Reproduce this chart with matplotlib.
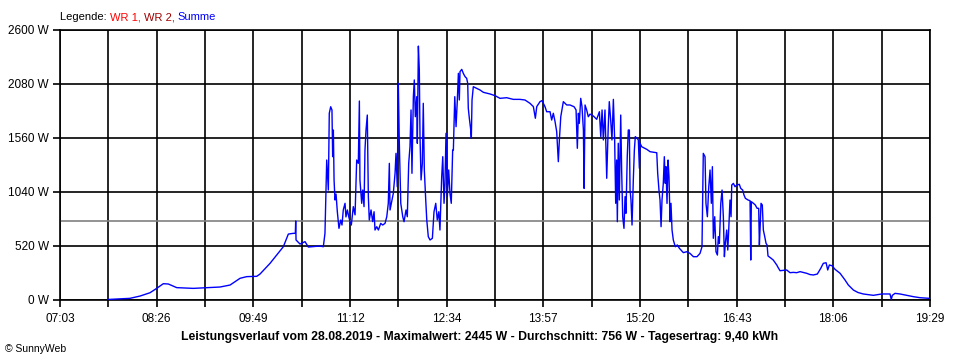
import matplotlib
matplotlib.use('Agg')
import matplotlib.pyplot as plt
import numpy as np

# time in minutes since midnight, power in W (Summe)
t_min = [
    464.0, 483.0, 491.6, 500.2, 505.9, 511.6, 515.9, 523.1, 537.3, 560.2,
    568.8, 577.4, 583.1, 591.7, 594.5, 603.1, 614.5, 618.8, 623.1, 624.8,
    625.1, 625.4, 628.8, 633.1, 635.9, 645.9, 648.8, 650.2, 651.7, 653.1,
    653.9, 655.1, 656.2, 656.8, 657.4, 658.0, 658.8, 659.7, 660.8, 662.2,
    663.7, 664.8, 665.9, 667.4, 668.2, 669.4, 670.6, 671.7, 672.8, 674.5,
    676.0, 677.4, 678.8, 679.7, 680.2, 681.7, 682.6, 683.7, 684.5, 685.4,
    686.5, 687.4, 688.2, 689.7, 691.1, 692.3, 693.1, 694.6, 696.0, 698.0,
    699.7, 701.7, 703.2, 704.5, 705.4, 706.0, 707.4, 708.8, 710.3, 711.1,
    712.2, 713.1, 713.9, 715.2, 716.9, 718.0, 719.7, 720.8, 722.0, 723.1,
    724.0, 724.8, 726.0, 726.8, 727.7, 728.9, 729.4, 730.3, 731.1, 731.7,
    732.6, 733.7, 734.5, 735.4, 736.6, 737.5, 738.8, 740.3, 742.3, 743.7,
    745.2, 746.5, 747.8, 748.8, 750.3, 751.2, 752.3, 753.1, 754.0, 755.1,
    756.3, 757.4, 758.5, 759.7, 760.3, 761.5, 762.6, 763.7, 764.6, 765.4,
    766.0, 767.5, 768.8, 770.3, 771.7, 772.6, 773.1, 774.0, 775.2, 775.7,
    776.3, 777.4, 780.3, 783.2, 786.0, 791.7, 796.0, 800.3, 806.0, 811.7,
    817.4, 821.7, 826.0, 828.9, 830.6, 831.8, 834.6, 836.3, 838.9, 840.3,
    843.2, 844.6, 846.0, 847.5, 848.9, 850.3, 851.2, 852.4, 854.6, 857.5,
    860.3, 863.8, 865.5, 866.6, 867.5, 868.3, 869.5, 870.6, 871.8, 872.4,
    873.2, 874.6, 876.0, 877.5, 880.3, 883.2, 885.5, 886.7, 887.8, 888.9,
    890.3, 891.8, 893.1, 894.0, 895.2, 896.3, 897.5, 898.6, 899.5, 900.3,
    900.9, 901.7, 902.6, 903.8, 904.6, 905.5, 906.6, 907.5, 908.3, 909.4,
    910.3, 911.2, 911.8, 912.6, 913.5, 914.6, 915.5, 916.3, 917.8, 918.9,
    919.8, 920.4, 921.8, 926.1, 929.0, 934.7, 935.5, 936.6, 937.5, 938.4,
    939.2, 940.3, 941.2, 942.0, 942.6, 943.5, 944.4, 945.2, 946.1, 946.9,
    947.8, 948.9, 950.6, 952.3, 954.1, 957.5, 960.4, 963.2, 966.1, 969.2,
    971.8, 973.5, 974.6, 976.1, 976.9, 978.1, 979.3, 980.4, 981.5, 982.4,
    983.2, 984.4, 985.5, 986.7, 987.5, 988.4, 989.6, 990.7, 991.8, 992.7,
    993.5, 994.7, 995.6, 996.4, 997.5, 998.4, 999.0, 1000.4, 1001.8, 1003.3,
    1005.5, 1006.7, 1008.4, 1009.5, 1010.7, 1013.0, 1014.7, 1015.3, 1015.8, 1017.6,
    1019.2, 1020.7, 1022.1, 1022.7, 1023.3, 1024.1, 1025.2, 1026.1, 1027.3, 1028.4,
    1029.3, 1030.1, 1031.8, 1034.6, 1037.6, 1038.9, 1040.4, 1046.1, 1049.0, 1051.8,
    1054.7, 1057.6, 1063.3, 1066.1, 1069.0, 1072.4, 1075.3, 1077.5, 1079.9, 1081.3,
    1082.7, 1085.0, 1087.6, 1091.9, 1096.1, 1099.0, 1103.3, 1107.3, 1111.8, 1120.4,
    1127.6, 1134.7, 1135.8, 1136.7, 1139.0, 1143.3, 1149.0, 1154.8, 1160.5, 1168.5,
]
summe_w = [
    5, 16, 38, 70, 112, 157, 154, 119, 112, 125,
    144, 209, 225, 228, 250, 353, 513, 635, 642, 642,
    761, 578, 539, 562, 510, 520, 513, 642, 1348, 1059,
    1798, 1861, 1830, 1380, 1637, 1156, 963, 1020, 850, 690,
    770, 722, 867, 931, 800, 867, 802, 755, 722, 899,
    820, 1348, 1316, 1916, 1156, 931, 1059, 899, 1444, 1637,
    1781, 995, 770, 867, 755, 850, 674, 706, 674, 738,
    722, 738, 802, 931, 1316, 867, 947, 1027, 1220, 1412,
    1091, 2087, 1541, 931, 802, 754, 867, 802, 1316, 1476,
    1830, 1220, 1958, 2119, 1765, 1958, 1509, 2445, 2215, 1573,
    1156, 1316, 1894, 1252, 963, 770, 610, 578, 594, 850,
    931, 770, 850, 674, 1188, 1380, 931, 1123, 1605, 995,
    1252, 1027, 931, 1444, 1444, 1958, 1669, 1926, 2183, 1926,
    2199, 2221, 2183, 2151, 2135, 2087, 1846, 1750, 1637, 1557,
    1926, 2054, 2038, 2022, 2000, 1984, 1968, 1942, 1948, 1932,
    1932, 1926, 1894, 1862, 1750, 1862, 1910, 1920, 1861, 1813,
    1813, 1733, 1798, 1717, 1621, 1332, 1541, 1765, 1910, 1878,
    1878, 1861, 1830, 1461, 1798, 1701, 1942, 1861, 1637, 1075,
    1878, 1830, 1765, 1790, 1772, 1740, 1813, 1573, 1830, 1541,
    1830, 1172, 1669, 1910, 1733, 1541, 1932, 1541, 931, 1348,
    754, 1509, 963, 1781, 1252, 802, 690, 995, 835, 1380,
    1637, 1637, 1059, 963, 722, 1156, 1444, 1573, 1557, 1541,
    1268, 1509, 1476, 1451, 1428, 1418, 1220, 1059, 963, 706,
    963, 1123, 1380, 1123, 1284, 930, 1348, 1188, 754, 931,
    674, 578, 513, 530, 498, 456, 465, 449, 417, 417,
    449, 513, 1412, 1380, 931, 802, 1091, 1252, 931, 1284,
    594, 802, 465, 433, 610, 546, 931, 1059, 802, 417,
    546, 674, 481, 674, 963, 802, 1107, 1123, 1091, 1107,
    1114, 1075, 1059, 1011, 979, 963, 956, 385, 947, 931,
    915, 883, 883, 530, 690, 931, 915, 674, 610, 546,
    530, 424, 410, 385, 337, 310, 282, 289, 263, 266,
    263, 273, 257, 245, 241, 250, 305, 353, 359, 289,
    337, 330, 295, 257, 193, 144, 96, 72, 58, 45,
    58, 58, 5, 45, 64, 58, 45, 32, 22, 16,
]

x_labels = ['07:03', '08:26', '09:49', '11:12', '12:34',
            '13:57', '15:20', '16:43', '18:06', '19:29']
y_ticks = [0, 520, 1040, 1560, 2080, 2600]
t_start, t_end = 423, 1169
avg_w = 756
title = ('Leistungsverlauf vom 28.08.2019 - Maximalwert: 2445 W - '
         'Durchschnitt: 756 W - Tagesertrag: 9,40 kWh')

plt.rcParams['font.family'] = ['Liberation Sans', 'DejaVu Sans']

fig = plt.figure(figsize=(9.6, 3.6), dpi=100)
ax = fig.add_axes([60 / 960, 60 / 360, 870 / 960, 270 / 360])

x_ticks = np.linspace(t_start, t_end, 19)
ax.set_xlim(t_start, t_end)
ax.set_ylim(0, 2600)
ax.set_xticks(x_ticks)
ax.set_xticklabels([x_labels[i // 2] if i % 2 == 0 else '' for i in range(19)])
ax.set_yticks(y_ticks)
ax.set_yticklabels(['{} W'.format(v) for v in y_ticks])
ax.tick_params(length=5, width=1.2, color='black', labelsize=8.5, pad=3)
ax.tick_params(axis='x', pad=4)
ax.grid(True, color='black', linewidth=1.2)
for s in ax.spines.values():
    s.set_linewidth(1.2)

ax.axhline(avg_w, color='#808080', linewidth=1.2, zorder=2)
ax.plot(t_min, summe_w, color='#0000ff', linewidth=1.0, zorder=3)

# legend line: coloured words one after another
parts = [('Legende: ', 'black'), ('WR 1, ', '#ff0000'),
         ('WR 2, ', '#a00000'), ('Summe', '#0000ff')]
fig.canvas.draw()
r = fig.canvas.get_renderer()
x = 60
for txt, col in parts:
    tt = fig.text(x / 960, 1 - 17 / 360, txt, color=col, fontsize=8,
                  va='center', ha='left')
    x = tt.get_window_extent(r).x1

fig.text(480 / 960, 1 - 337 / 360, title, fontsize=8.8, fontweight='bold',
         ha='center', va='center')
fig.text(5 / 960, 1 - 349 / 360, '\u00a9 SunnyWeb', fontsize=7.5,
         ha='left', va='center')

fig.savefig('out.png', dpi=100)
